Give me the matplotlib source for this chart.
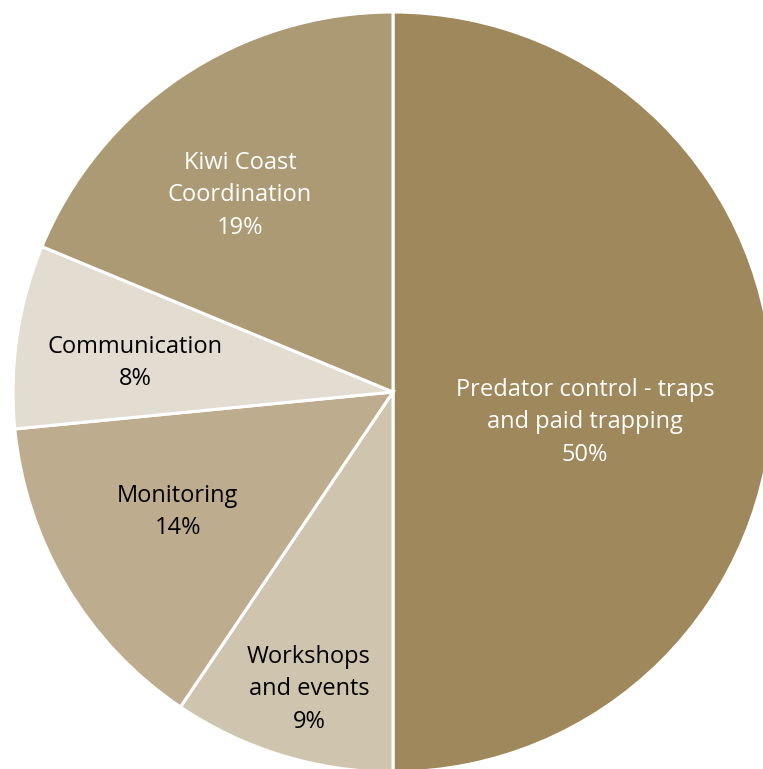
import matplotlib.pyplot as plt

# slices, clockwise from 12 o'clock
labels = ["Predator control - traps\nand paid trapping", "Workshops\nand events",
          "Monitoring", "Communication", "Kiwi Coast\nCoordination"]
shares = [50.0, 9.45, 14.0, 7.8, 18.75]
colors = ["#9e885c", "#cfc4ae", "#bdad8e", "#e2dcd1", "#ac9a74"]
text_colors = ["white", "black", "black", "black", "white"]
# label positions (axes data units, pie radius = 1)
label_pos = [(0.505, -0.08), (-0.221, -0.782), (-0.566, -0.316),
             (-0.679, 0.076), (-0.403, 0.518)]

plt.rcParams['font.family'] = ['Open Sans', 'DejaVu Sans']

fig = plt.figure(figsize=(7.63, 7.69), dpi=100)
ax = fig.add_axes([0, 0, 1, 1])
ax.pie(shares, colors=colors, startangle=90, counterclock=False, radius=1,
       wedgeprops=dict(edgecolor="white", linewidth=2.2))

for lab, v, (x, y), c in zip(labels, shares, label_pos, text_colors):
    ax.text(x, y, f"{lab}\n{v:.0f}%", ha="center", va="center", color=c,
            fontsize=17, linespacing=1.48)

ax.set_xlim(-393 / 380, (763 - 393) / 380)
ax.set_ylim((392 - 769) / 380, 392 / 380)
ax.set_aspect("equal")
ax.axis("off")

fig.savefig("out.png", dpi=100, facecolor="white")
